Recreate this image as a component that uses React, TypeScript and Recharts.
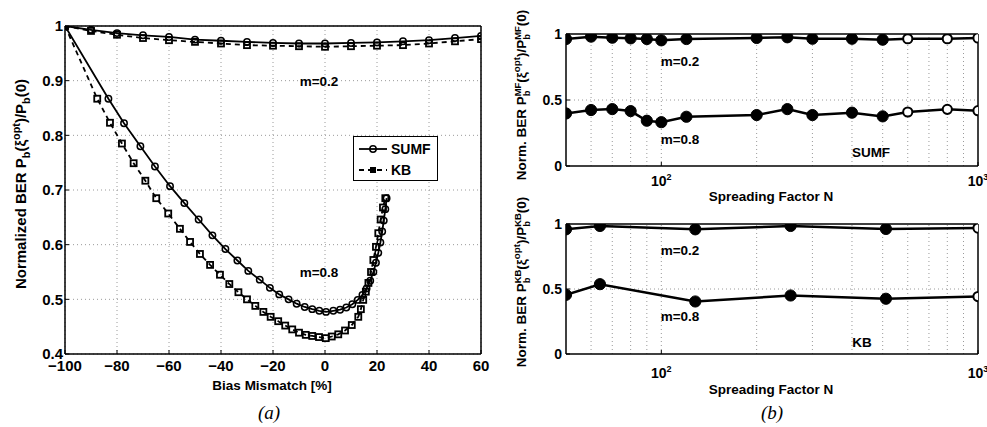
import { LineChart, Line, XAxis, YAxis, CartesianGrid, ReferenceLine } from 'recharts'
import type { CSSProperties, ReactNode } from 'react'

// ---- (a) normalized BER vs. bias mismatch ----
const BIAS_TICKS = [-100, -80, -60, -40, -20, 0, 20, 40, 60]
const BER_TICKS = [0.4, 0.5, 0.6, 0.7, 0.8, 0.9, 1]

const biasM02 = [-100, -90, -80, -70, -60, -50, -40, -30, -20, -10, 0, 10, 20, 30, 40, 50, 60]
const sumfM02 = [1.0, 0.993, 0.987, 0.983, 0.98, 0.975, 0.973, 0.971, 0.969, 0.968, 0.968, 0.969, 0.97, 0.972, 0.974, 0.978, 0.982]
const kbM02 = [1.0, 0.991, 0.984, 0.978, 0.974, 0.971, 0.968, 0.965, 0.964, 0.963, 0.962, 0.963, 0.964, 0.965, 0.968, 0.972, 0.976]

const sumfBiasM08 = [
  -100, -83.3, -77.3, -71, -65.4, -59.6, -54.1, -48.6, -43.3, -38.3, -33.7, -29.5, -25.1, -21.2,
  -17.6, -14, -10.9, -7.8, -4.9, -2.2, 0.4, 3.2, 5.8, 8.2, 10.5, 12.6, 14.4, 16, 17.4, 18.6, 19.6,
  20.5, 21.3, 22, 22.6, 23.2, 23.7,
]
const sumfM08 = [
  1.0, 0.867, 0.822, 0.78, 0.743, 0.707, 0.676, 0.646, 0.617, 0.592, 0.571, 0.552, 0.536, 0.521,
  0.509, 0.5, 0.492, 0.486, 0.482, 0.479, 0.477, 0.479, 0.481, 0.485, 0.491, 0.499, 0.508, 0.52,
  0.534, 0.55, 0.567, 0.585, 0.604, 0.624, 0.644, 0.665, 0.685,
]
const kbBiasM08 = [
  -100, -87.6, -82.7, -78.1, -73.6, -69.1, -64.9, -60.3, -55.8, -51.9, -48.1, -44.2, -40.4, -36.8,
  -33.3, -30, -26.8, -23.7, -20.9, -18, -15.3, -12.6, -10, -7.4, -4.9, -2.3, 0.3, 2.6, 5.1, 7.7,
  10.3, 12.8, 13.8, 14.7, 15.7, 16.7, 17.7, 18.6, 19.6, 20.5, 21.4, 22.3, 23.2,
]
const kbM08 = [
  1.0, 0.867, 0.823, 0.785, 0.749, 0.717, 0.685, 0.657, 0.629, 0.605, 0.583, 0.563, 0.545, 0.528,
  0.513, 0.5, 0.488, 0.477, 0.468, 0.46, 0.452, 0.445, 0.439, 0.435, 0.433, 0.431, 0.429, 0.432,
  0.436, 0.443, 0.453, 0.468, 0.482, 0.499, 0.514, 0.53, 0.55, 0.572, 0.596, 0.621, 0.646, 0.668,
  0.685,
]

// ---- (b) normalized BER vs. spreading factor ----
const N_TICKS = [100, 1000]
const N_GRID = [60, 70, 80, 90, 100, 200, 300, 400, 500, 600, 700, 800, 900]
const NORM_TICKS = [0, 0.5, 1]

const sumfN = [50, 60, 70, 80, 90, 100, 120, 200, 250, 300, 400, 500, 600, 800, 1000]
const sumfNM02 = [0.962, 0.98, 0.972, 0.967, 0.962, 0.952, 0.962, 0.97, 0.975, 0.964, 0.964, 0.957, 0.964, 0.964, 0.97]
const sumfNM08 = [0.398, 0.424, 0.431, 0.416, 0.343, 0.332, 0.373, 0.386, 0.431, 0.386, 0.404, 0.376, 0.409, 0.429, 0.419]

const kbN = [50, 64, 128, 256, 512, 1000]
const kbNM02 = [0.959, 0.985, 0.959, 0.985, 0.962, 0.969]
const kbNM08 = [0.455, 0.537, 0.404, 0.45, 0.425, 0.442]

const FONT = '"Liberation Sans", Arial, Helvetica, sans-serif'
const SERIF = '"Liberation Serif", "Times New Roman", serif'
const pts = (xs: number[], ys: number[]) => xs.map((x, i) => ({ x, y: ys[i] }))

const fmtBias = (v: number) => (v < 0 ? '\u2212' + Math.abs(v) : String(v))
const fmtBer = (v: number) => (v === 1 ? '1' : v.toFixed(1))
const fmtNorm = (v: number) => (v === 0 ? '0' : v === 1 ? '1' : '0.5')
const blank = () => ''

const axisLine = { stroke: '#000', strokeWidth: 1.5 }
const tickLine = { stroke: '#000', strokeWidth: 1 }

const ring = (p: any) =>
  p.cx == null ? <g key={p.index} /> : (
    <circle key={p.index} cx={p.cx} cy={p.cy} r={3.2} fill="none" stroke="#000" strokeWidth={1.5} />
  )
const box = (p: any) =>
  p.cx == null ? <g key={p.index} /> : (
    <rect key={p.index} x={p.cx - 3} y={p.cy - 3} width={6} height={6} fill="none" stroke="#000" strokeWidth={1.8} />
  )

function BiasChart() {
  const tick = { fill: '#000', fontSize: 15, fontWeight: 700, fontFamily: FONT }
  return (
    <LineChart width={495} height={427} margin={{ top: 16, right: 4, bottom: 43, left: 20 }}>
      <CartesianGrid stroke="#9a9a9a" strokeDasharray="1 3" />
      <XAxis
        type="number"
        dataKey="x"
        domain={[-100, 60]}
        ticks={BIAS_TICKS}
        interval={0}
        allowDataOverflow
        tickFormatter={fmtBias}
        tick={tick}
        tickSize={-4}
        tickMargin={10}
        height={30}
        axisLine={axisLine}
        tickLine={tickLine}
      />
      <XAxis
        xAxisId="top"
        orientation="top"
        type="number"
        domain={[-100, 60]}
        ticks={BIAS_TICKS}
        interval={0}
        tickFormatter={blank}
        tickSize={-4}
        height={10}
        axisLine={axisLine}
        tickLine={tickLine}
      />
      <YAxis
        type="number"
        domain={[0.4, 1]}
        ticks={BER_TICKS}
        interval={0}
        allowDataOverflow
        tickFormatter={fmtBer}
        tick={tick}
        tickSize={-4}
        tickMargin={6}
        width={45}
        axisLine={axisLine}
        tickLine={tickLine}
      />
      <YAxis
        yAxisId="right"
        orientation="right"
        type="number"
        domain={[0.4, 1]}
        ticks={BER_TICKS}
        interval={0}
        tickFormatter={blank}
        tickSize={-4}
        width={10}
        axisLine={axisLine}
        tickLine={tickLine}
      />
      <Line data={pts(biasM02, sumfM02)} dataKey="y" stroke="#000" strokeWidth={1.8} dot={ring} isAnimationActive={false} />
      <Line data={pts(biasM02, kbM02)} dataKey="y" stroke="#000" strokeWidth={1.8} strokeDasharray="5 4" dot={box} isAnimationActive={false} />
      <Line data={pts(sumfBiasM08, sumfM08)} dataKey="y" stroke="#000" strokeWidth={1.8} dot={ring} isAnimationActive={false} />
      <Line data={pts(kbBiasM08, kbM08)} dataKey="y" stroke="#000" strokeWidth={1.8} strokeDasharray="5 4" dot={box} isAnimationActive={false} />
    </LineChart>
  )
}

function SpreadChart({
  n,
  m02,
  m08,
  openFrom,
  marginTop,
  marginBottom,
  tickDy,
}: {
  n: number[]
  m02: number[]
  m08: number[]
  openFrom: number
  marginTop: number
  marginBottom: number
  tickDy: number
}) {
  const rows = n.map((v, i) => ({ n: v, m02: m02[i], m08: m08[i] }))
  const tick = { fill: '#000', fontSize: 14, fontWeight: 700, fontFamily: FONT }
  const dot = (p: any) => {
    if (p.cx == null) return <g key={p.index} />
    const open = p.payload.n >= openFrom
    return open ? (
      <circle key={p.index} cx={p.cx} cy={p.cy} r={4.6} fill="#fff" stroke="#000" strokeWidth={2} />
    ) : (
      <circle key={p.index} cx={p.cx} cy={p.cy} r={5.6} fill="#000" stroke="#000" strokeWidth={1} />
    )
  }
  const decadeTick = (p: any) => (
    <text x={p.x} y={p.y} dy={tickDy} textAnchor="middle" fill="#000" fontSize={14} fontWeight={700} fontFamily={FONT}>
      10
      <tspan dy={-6} fontSize={9}>
        {Math.round(Math.log10(p.payload.value))}
      </tspan>
    </text>
  )
  return (
    <LineChart width={487} height={200} data={rows} margin={{ top: marginTop, right: 4, bottom: marginBottom, left: 0 }}>
      {N_GRID.map((g) => (
        <ReferenceLine key={g} x={g} stroke="#9a9a9a" strokeDasharray="1 3" />
      ))}
      <ReferenceLine y={0.5} stroke="#9a9a9a" strokeDasharray="1 3" />
      <XAxis
        dataKey="n"
        type="number"
        scale="log"
        domain={[50, 1000]}
        allowDataOverflow
        ticks={N_TICKS}
        interval={0}
        tick={decadeTick}
        tickSize={-4}
        tickMargin={8}
        height={30}
        axisLine={axisLine}
        tickLine={tickLine}
      />
      <XAxis
        xAxisId="top"
        orientation="top"
        type="number"
        scale="log"
        domain={[50, 1000]}
        ticks={N_TICKS}
        interval={0}
        tickFormatter={blank}
        tickSize={-4}
        height={5}
        axisLine={axisLine}
        tickLine={tickLine}
      />
      <YAxis
        type="number"
        domain={[0, 1]}
        ticks={NORM_TICKS}
        interval={0}
        allowDataOverflow
        tickFormatter={fmtNorm}
        tick={tick}
        tickSize={-4}
        tickMargin={8}
        width={66}
        axisLine={axisLine}
        tickLine={tickLine}
      />
      <YAxis
        yAxisId="right"
        orientation="right"
        type="number"
        domain={[0, 1]}
        ticks={NORM_TICKS}
        interval={0}
        tickFormatter={blank}
        tickSize={-4}
        width={5}
        axisLine={axisLine}
        tickLine={tickLine}
      />
      <Line dataKey="m02" stroke="#000" strokeWidth={2.5} dot={dot} isAnimationActive={false} />
      <Line dataKey="m08" stroke="#000" strokeWidth={2.5} dot={dot} isAnimationActive={false} />
    </LineChart>
  )
}

const bold: CSSProperties = { fontFamily: FONT, fontWeight: 700, color: '#000' }

function At({ x, y, size = 13.5, rotate, style, children }: { x: number; y: number; size?: number; rotate?: boolean; style?: CSSProperties; children: ReactNode }) {
  return (
    <div
      style={{
        position: 'absolute',
        left: x,
        top: y,
        transform: `translate(-50%, -50%)${rotate ? ' rotate(-90deg)' : ''}`,
        whiteSpace: 'nowrap',
        fontSize: size,
        lineHeight: 1,
        ...bold,
        ...style,
      }}
    >
      {children}
    </div>
  )
}

const sub = (t: string) => <sub style={{ fontSize: '72%', lineHeight: 0 }}>{t}</sub>
const sup = (t: string) => <sup style={{ fontSize: '72%', lineHeight: 0 }}>{t}</sup>
const stack = (top: string, bottom: string) => (
  <span style={{ display: 'inline-flex', flexDirection: 'column', fontSize: '70%', lineHeight: 1, verticalAlign: 'middle' }}>
    <span>{top}</span>
    <span>{bottom}</span>
  </span>
)

function Legend() {
  return (
    <div
      style={{
        position: 'absolute',
        left: 353,
        top: 136,
        width: 83,
        height: 43,
        border: '1px solid #000',
        background: '#fff',
        ...bold,
        fontSize: 14,
      }}
    >
      <svg width={30} height={12} style={{ position: 'absolute', left: 5, top: 6 }}>
        <line x1={0} y1={6} x2={28} y2={6} stroke="#000" strokeWidth={1.8} />
        <circle cx={14} cy={6} r={3.2} fill="none" stroke="#000" strokeWidth={1.5} />
      </svg>
      <span style={{ position: 'absolute', left: 37, top: 4 }}>SUMF</span>
      <svg width={30} height={12} style={{ position: 'absolute', left: 5, top: 27 }}>
        <line x1={0} y1={6} x2={28} y2={6} stroke="#000" strokeWidth={1.8} strokeDasharray="5 4" />
        <rect x={11} y={3} width={6} height={6} fill="#000" />
      </svg>
      <span style={{ position: 'absolute', left: 37, top: 25 }}>KB</span>
    </div>
  )
}

export default function App() {
  return (
    <div style={{ position: 'absolute', left: 0, top: 0, width: 987, height: 427, background: '#fff', overflow: 'hidden' }}>
      <div style={{ position: 'absolute', left: 0, top: 0 }}>
        <BiasChart />
      </div>
      <div style={{ position: 'absolute', left: 500, top: 0 }}>
        <SpreadChart n={sumfN} m02={sumfNM02} m08={sumfNM08} openFrom={600} marginTop={29} marginBottom={4} tickDy={16} />
      </div>
      <div style={{ position: 'absolute', left: 500, top: 200 }}>
        <SpreadChart n={kbN} m02={kbNM02} m08={kbNM08} openFrom={1000} marginTop={19} marginBottom={16} tickDy={20} />
      </div>

      <Legend />

      <At x={20} y={184} size={15} rotate>
        Normalized BER P{sub('b')}(ξ{sup('opt')})/P{sub('b')}(0)
      </At>
      <At x={272} y={386}>Bias Mismatch [%]</At>
      <At x={319} y={82}>m=0.2</At>
      <At x={319} y={273}>m=0.8</At>

      <At x={522} y={95} size={13.5} rotate>
        Norm. BER P{stack('MF', 'b')}(ξ{sup('opt')})/P{stack('MF', 'b')}(0)
      </At>
      <At x={522} y={282} size={13.5} rotate>
        Norm. BER P{stack('KB', 'b')}(ξ{sup('opt')})/P{stack('KB', 'b')}(0)
      </At>
      <At x={771} y={197}>Spreading Factor N</At>
      <At x={771} y={390}>Spreading Factor N</At>
      <At x={680} y={62}>m=0.2</At>
      <At x={680} y={140}>m=0.8</At>
      <At x={871} y={153}>SUMF</At>
      <At x={680} y={251}>m=0.2</At>
      <At x={680} y={317}>m=0.8</At>
      <At x={862} y={343}>KB</At>

      <At x={269} y={412} size={19} style={{ fontFamily: SERIF, fontWeight: 400, fontStyle: 'italic' }}>
        (a)
      </At>
      <At x={772} y={412} size={19} style={{ fontFamily: SERIF, fontWeight: 400, fontStyle: 'italic' }}>
        (b)
      </At>
    </div>
  )
}
